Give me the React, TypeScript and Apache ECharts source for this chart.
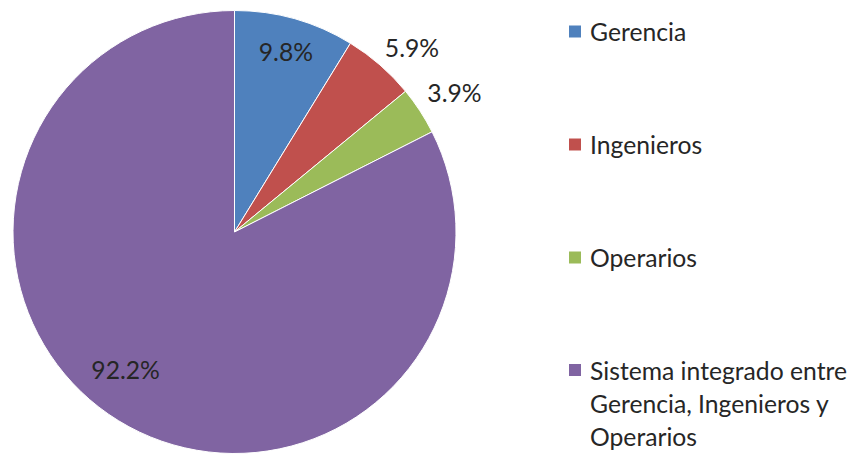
import React, { useEffect, useRef } from "react";
import * as echarts from "echarts";

const categories = [
  "Gerencia",
  "Ingenieros",
  "Operarios",
  "Sistema integrado entre Gerencia, Ingenieros y Operarios",
];
const values = [9.8, 5.9, 3.9, 92.2];
const colors = ["#4F81BD", "#C0504D", "#9BBB59", "#8064A2"];
const innerLabelShown = [true, false, false, true];
const outerLabelShown = [false, true, true, false];
const legendWrapped: Record<string, string> = {
  "Sistema integrado entre Gerencia, Ingenieros y Operarios":
    "\n\nSistema integrado entre\nGerencia, Ingenieros y\nOperarios",
};

const FONT = "Lato";
const FS = 24.7;
const TEXT_COLOR = "#262626";
const CENTER = [234.5, 232];

export default function App() {
  const ref = useRef<HTMLDivElement>(null);
  useEffect(() => {
    if (!ref.current) return;
    const chart = echarts.init(ref.current, null, { renderer: "svg" });
    const baseData = categories.map((name, i) => ({
      name,
      value: values[i],
      itemStyle: { color: colors[i] },
    }));
    const labelSeries = (radius: number[], shown: boolean[], nudge?: (i: number) => { dx: number; dy: number }) => ({
      type: "pie",
      center: CENTER,
      radius,
      startAngle: 90,
      clockwise: true,
      silent: true,
      legendHoverLink: false,
      avoidLabelOverlap: false,
      itemStyle: { color: "transparent", borderWidth: 0 },
      emphasis: { disabled: true },
      labelLine: { show: false },
      label: {
        show: true,
        position: "inside",
        formatter: "{c}%",
        fontFamily: FONT,
        fontSize: FS,
        color: TEXT_COLOR,
      },
      labelLayout: nudge ? (p: any) => nudge(p.dataIndex) : undefined,
      data: categories.map((name, i) => ({
        name,
        value: values[i],
        label: { show: shown[i] },
      })),
    });
    chart.setOption({
      animation: false,
      backgroundColor: "#ffffff",
      legend: [
        {
          orient: "vertical",
          left: 567,
          top: 15,
          padding: 0,
          itemGap: 80,
          itemWidth: 14,
          itemHeight: 14,
          icon: "rect",
          selectedMode: false,
          data: categories.slice(0, 3),
          textStyle: {
            fontFamily: FONT,
            fontSize: FS,
            color: TEXT_COLOR,
            lineHeight: 33,
            padding: [0, 0, 0, 3],
          },
        },
        {
          orient: "vertical",
          left: 567,
          top: 287.5,
          padding: 0,
          itemWidth: 14,
          itemHeight: 14,
          icon: "rect",
          selectedMode: false,
          data: categories.slice(3),
          formatter: (name: string) => legendWrapped[name] || name,
          textStyle: {
            fontFamily: FONT,
            fontSize: FS,
            color: TEXT_COLOR,
            lineHeight: 33,
            padding: [0, 0, 0, 3],
          },
        },
      ],
      series: [
        {
          type: "pie",
          center: CENTER,
          radius: 221.5,
          startAngle: 90,
          clockwise: true,
          avoidLabelOverlap: false,
          label: { show: false },
          labelLine: { show: false },
          itemStyle: { borderColor: "#ffffff", borderWidth: 1 },
          emphasis: { disabled: true },
          data: baseData,
        },
        labelSeries([150, 222], innerLabelShown, (i) =>
          i === 3 ? { dx: -10, dy: -24 } : { dx: 0, dy: 1 }
        ),
        labelSeries([230, 280], outerLabelShown, (i) =>
          i === 1 ? { dx: 8, dy: 10 } : i === 2 ? { dx: 4, dy: 2 } : { dx: 0, dy: 0 }
        ),
      ],
    });
    return () => chart.dispose();
  }, []);
  return (
    <div
      ref={ref}
      style={{ position: "fixed", left: 0, top: 0, width: 852, height: 455 }}
    />
  );
}
